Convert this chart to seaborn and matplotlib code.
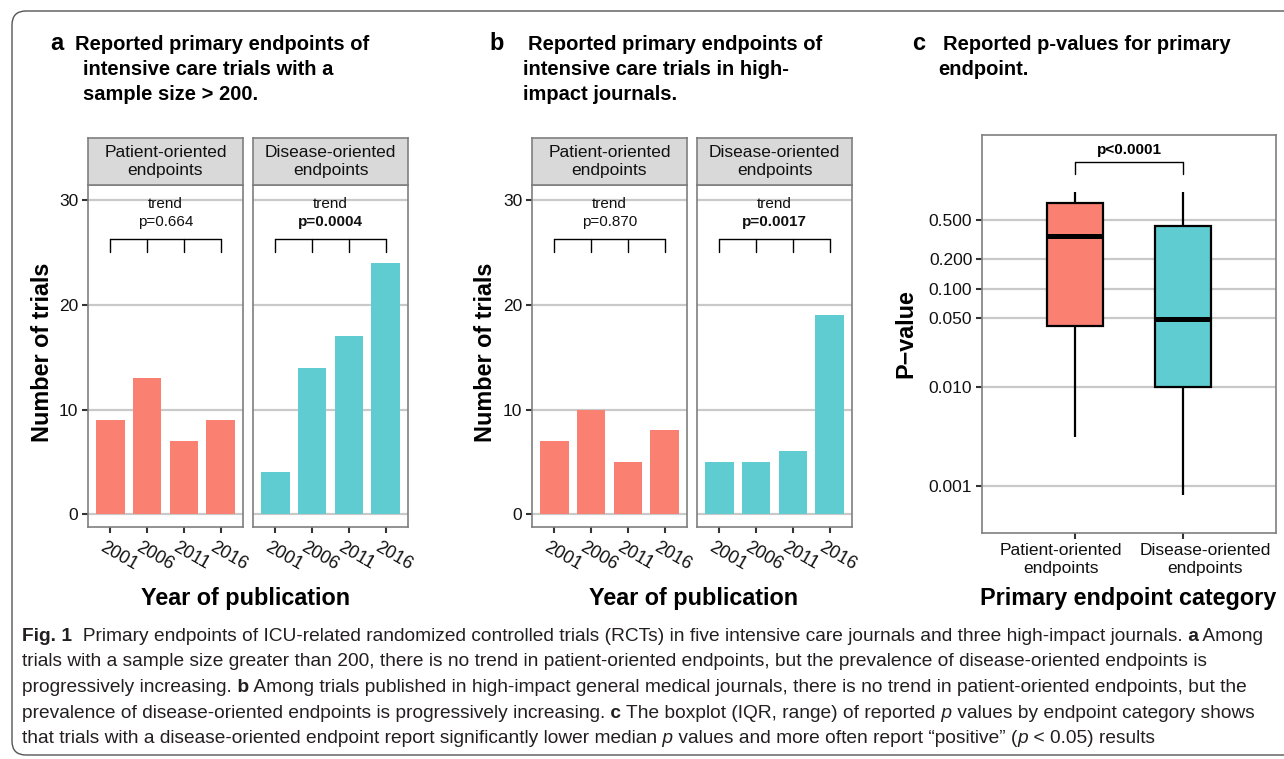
import matplotlib
matplotlib.use('Agg')
import matplotlib.pyplot as plt
import matplotlib.transforms as mtransforms
from matplotlib.patches import FancyBboxPatch
from matplotlib.ticker import NullLocator
from matplotlib import font_manager
import pandas as pd
import seaborn as sns

years = ['2001', '2006', '2011', '2016']
categories = ['Patient-oriented\nendpoints', 'Disease-oriented\nendpoints']
a_patient = [9, 13, 7, 9]
a_disease = [4, 14, 17, 24]
b_patient = [7, 10, 5, 8]
b_disease = [5, 5, 6, 19]
a_trend = ['0.664', '0.0004']
b_trend = ['0.870', '0.0017']
# min, Q1, median, Q3, max (IQR, range)
c_patient = [0.0031, 0.0415, 0.344, 0.744, 0.962]
c_disease = [0.00081, 0.010, 0.049, 0.435, 0.97]
c_ticks = [0.001, 0.010, 0.050, 0.100, 0.200, 0.500]
c_ticklabels = ['0.001', '0.010', '0.050', '0.100', '0.200', '0.500']

colors = ['#FA8072', '#5FCCD1']

sns.set_style('white')
plt.rcParams['font.family'] = ['Liberation Sans', 'DejaVu Sans']
plt.rcParams['text.color'] = 'black'

names = {f.name for f in font_manager.fontManager.ttflist}
cap_font = 'Liberation Sans Narrow' if 'Liberation Sans Narrow' in names else 'Liberation Sans'

W, H = 1284, 759
fig = plt.figure(figsize=(W / 100, H / 100), dpi=100)

grid_c = '#C9C9C9'
border_c = '#7F7F7F'
text_c = '#111111'
axis_title = 16.8


def px_axes(x0, y0, x1, y1):
    return fig.add_axes([x0 / W, 1 - y1 / H, (x1 - x0) / W, (y1 - y0) / H])


def frame(ax):
    for s in ax.spines.values():
        s.set_visible(True)
        s.set_color(border_c)
        s.set_linewidth(1.2)


def strip(x0, x1, label):
    sax = px_axes(x0, 138, x1, 185)
    sax.set_facecolor('#D9D9D9')
    sax.set_xticks([])
    sax.set_yticks([])
    frame(sax)
    sax.text(0.5, 0.5, label, ha='center', va='center', fontsize=12.5,
             color=text_c, linespacing=1.3, transform=sax.transAxes)


def facet(x0, x1, values, color, label, pval, bold, show_y):
    ax = px_axes(x0, 185, x1, 527)
    df = pd.DataFrame({'year': years, 'n': values})
    sns.barplot(data=df, x='year', y='n', color=color, saturation=1,
                width=0.78, linewidth=0, ax=ax)
    ax.set_xlim(-0.6, 3.6)
    ax.set_ylim(-1.2, 31.4)
    ax.set_yticks([0, 10, 20, 30])
    ax.set_axisbelow(True)
    ax.yaxis.grid(True, color=grid_c, lw=1.6)
    ax.xaxis.grid(False)
    frame(ax)
    ax.set_xlabel('')
    ax.set_ylabel('')
    ax.tick_params(axis='both', length=4, width=1.5, color='#333333',
                   labelsize=12.5, labelcolor=text_c, pad=3)
    ax.tick_params(axis='y', left=show_y, labelleft=show_y)
    ax.tick_params(axis='x', bottom=True)
    offset = mtransforms.ScaledTranslation(-5 / 100, -2 / 100, fig.dpi_scale_trans)
    for t in ax.get_xticklabels():
        t.set_rotation(-30)
        t.set_ha('left')
        t.set_va('top')
        t.set_rotation_mode('anchor')
        t.set_fontsize(13)
        t.set_transform(t.get_transform() + offset)
    # trend bracket across the four years
    ax.plot([0, 3], [26.25, 26.25], color='black', lw=1)
    for i in range(4):
        ax.plot([i, i], [25.0, 26.25], color='black', lw=1)
    ax.text(1.5, 29.6, 'trend', ha='center', va='center', fontsize=11, color=text_c)
    ax.text(1.5, 27.9, 'p=' + pval, ha='center', va='center', fontsize=11,
            color=text_c, fontweight='bold' if bold else 'normal')
    strip(x0, x1, label)
    return ax


def title(xl, x1, x2, lines):
    fig.text(xl / W, 1 - 50 / H, lines[0], fontsize=17, fontweight='bold',
             va='baseline', ha='left', color='black')
    for i, line in enumerate(lines[1:]):
        fig.text((x1 if i == 0 else x2) / W, 1 - (50 + 25 * i) / H, line,
                 fontsize=14.5, fontweight='bold', va='baseline', ha='left', color='black')


# panel a
facet(88, 243, a_patient, colors[0], categories[0], a_trend[0], False, True)
facet(253, 408, a_disease, colors[1], categories[1], a_trend[1], True, False)
title(50, 75, 83, ['a', 'Reported primary endpoints of', 'intensive care trials with a',
                   'sample size > 200.'])
fig.text(43 / W, 1 - 352 / H, 'Number of trials', rotation=90, ha='center', va='center',
         fontsize=axis_title, fontweight='bold')
fig.text(246 / W, 1 - 598 / H, 'Year of publication', ha='center', va='center',
         fontsize=axis_title, fontweight='bold')

# panel b
facet(532, 687, b_patient, colors[0], categories[0], b_trend[0], False, True)
facet(697, 852, b_disease, colors[1], categories[1], b_trend[1], True, False)
title(489, 528, 523, ['b', 'Reported primary endpoints of', 'intensive care trials in high-',
                      'impact journals.'])
fig.text(485 / W, 1 - 352 / H, 'Number of trials', rotation=90, ha='center', va='center',
         fontsize=axis_title, fontweight='bold')
fig.text(694 / W, 1 - 598 / H, 'Year of publication', ha='center', va='center',
         fontsize=axis_title, fontweight='bold')

# panel c
axc = px_axes(982, 135, 1276, 533)
dfc = pd.DataFrame({'category': [categories[0]] * len(c_patient) + [categories[1]] * len(c_disease),
                    'p': c_patient + c_disease})
sns.boxplot(data=dfc, x='category', y='p', hue='category', palette=colors, saturation=1,
            whis=(0, 100), width=0.52, linecolor='black', linewidth=1.6, showcaps=False,
            fliersize=0, log_scale=True, medianprops={'linewidth': 3.6}, legend=False, ax=axc)
axc.set_ylim(0.00033, 3.65)
axc.set_xlim(-0.86, 1.86)
axc.yaxis.set_minor_locator(NullLocator())
axc.set_yticks(c_ticks)
axc.set_yticklabels(c_ticklabels)
axc.set_axisbelow(True)
axc.yaxis.grid(True, color=grid_c, lw=1.6)
axc.xaxis.grid(False)
frame(axc)
axc.set_xlabel('')
axc.set_ylabel('')
axc.tick_params(axis='both', length=4, width=1.5, color='#333333', labelsize=12.5,
                labelcolor=text_c, pad=3, left=True, bottom=True)
# the category labels sit slightly outward from their ticks in the reference
for t, dx in zip(axc.get_xticklabels(), [-14, 22]):
    t.set_linespacing(1.3)
    t.set_transform(t.get_transform() +
                    mtransforms.ScaledTranslation(dx / 100, 0, fig.dpi_scale_trans))
axc.plot([0, 0, 1, 1], [1.47, 1.94, 1.94, 1.47], color='black', lw=1)
axc.text(0.5, 2.57, 'p<0.0001', ha='center', va='center', fontsize=11, fontweight='bold')
fig.text(912 / W, 1 - 50 / H, 'c', fontsize=17, fontweight='bold', va='baseline')
fig.text(943 / W, 1 - 50 / H, 'Reported p-values for primary', fontsize=14.5,
         fontweight='bold', va='baseline')
fig.text(938 / W, 1 - 75 / H, 'endpoint.', fontsize=14.5, fontweight='bold', va='baseline')
fig.text(906 / W, 1 - 334 / H, 'P\u2212value', rotation=90, ha='center', va='center',
         fontsize=axis_title, fontweight='bold')
fig.text(1128 / W, 1 - 598 / H, 'Primary endpoint category', ha='center', va='center',
         fontsize=axis_title, fontweight='bold')

# caption
caption = [
    [('Fig. 1', 'bold', 'normal'),
     ('  Primary endpoints of ICU-related randomized controlled trials (RCTs) in five intensive '
      'care journals and three high-impact journals.', 'normal', 'normal'),
     (' a', 'bold', 'normal'), (' Among', 'normal', 'normal')],
    [('trials with a sample size greater than 200, there is no trend in patient-oriented endpoints, '
      'but the prevalence of disease-oriented endpoints is', 'normal', 'normal')],
    [('progressively increasing.', 'normal', 'normal'), (' b', 'bold', 'normal'),
     (' Among trials published in high-impact general medical journals, there is no trend in '
      'patient-oriented endpoints, but the', 'normal', 'normal')],
    [('prevalence of disease-oriented endpoints is progressively increasing.', 'normal', 'normal'),
     (' c', 'bold', 'normal'),
     (' The boxplot (IQR, range) of reported', 'normal', 'normal'), (' p', 'normal', 'italic'),
     (' values by endpoint category shows', 'normal', 'normal')],
    [('that trials with a disease-oriented endpoint report significantly lower median', 'normal', 'normal'),
     (' p', 'normal', 'italic'),
     (' values and more often report \u201cpositive\u201d (', 'normal', 'normal'),
     ('p', 'normal', 'italic'), (' < 0.05) results', 'normal', 'normal')],
]
renderer = fig.canvas.get_renderer()


def draw_line(segs, y_px, size):
    x = 22
    made = []
    for txt, wt, st in segs:
        t = fig.text(x / W, 1 - y_px / H, txt, fontsize=size, fontweight=wt, fontstyle=st,
                     family=[cap_font, 'DejaVu Sans'], va='baseline', ha='left', color='#231F20')
        x += t.get_window_extent(renderer).width
        made.append(t)
    return x - 22, made


w, tmp = draw_line(caption[0], 640, 10)
for t in tmp:
    t.remove()
cap_size = 10 * 1253 / w
for i, segs in enumerate(caption):
    draw_line(segs, 640.7 + 25.6 * i, cap_size)

box = FancyBboxPatch((12, 4), 1400, 744, boxstyle='round,pad=0,rounding_size=14',
                     transform=mtransforms.IdentityTransform(), fill=False,
                     edgecolor='#555555', linewidth=1.0)
fig.add_artist(box)

fig.savefig('out.png', dpi=100)
